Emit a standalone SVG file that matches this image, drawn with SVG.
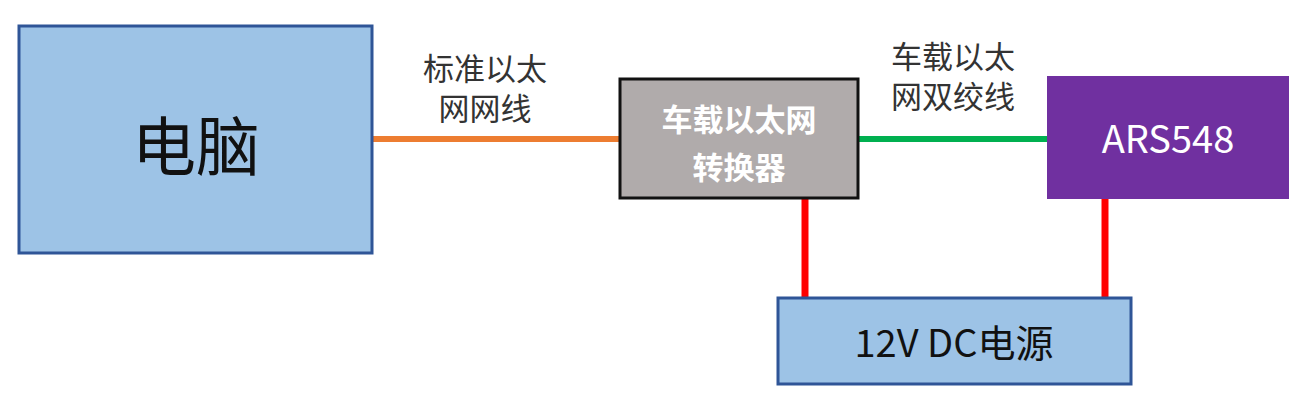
<svg xmlns="http://www.w3.org/2000/svg" width="1305" height="403" viewBox="0 0 1305 403">
<style>
text{font-family:"Noto Sans CJK SC","Noto Sans",sans-serif;text-anchor:middle}
.blue{fill:#9dc3e6;stroke:#2f5597;stroke-width:3}
.lbl{font-size:31px;fill:#333}
</style>
<rect width="1305" height="403" fill="#fff"/>
<g id="connectors">
<line x1="372" y1="139" x2="619" y2="139" stroke="#ed7d31" stroke-width="6"/>
<line x1="858" y1="139" x2="1047" y2="139" stroke="#00b050" stroke-width="6"/>
<line x1="805" y1="198" x2="805" y2="298" stroke="#ff0000" stroke-width="7"/>
<line x1="1105" y1="199" x2="1105" y2="298" stroke="#ff0000" stroke-width="7"/>
<text class="lbl" x="485" y="80">标准以太</text>
<text class="lbl" x="485" y="120">网网线</text>
<text class="lbl" x="953" y="68">车载以太</text>
<text class="lbl" x="953" y="108">网双绞线</text>
</g>
<g id="pc"><rect class="blue" x="19" y="26" width="353" height="227"/><text x="196" y="170" font-size="64" fill="#111">电脑</text></g>
<g id="converter"><rect x="620" y="79" width="238" height="119" fill="#b0abab" stroke="#111" stroke-width="3"/><text x="739" y="131" font-size="31" font-weight="bold" fill="#fff">车载以太网</text><text x="739" y="179" font-size="31" font-weight="bold" fill="#fff">转换器</text></g>
<g id="ars548"><rect x="1047" y="76" width="242" height="123" fill="#7030a0"/><text x="1168" y="153" font-size="38" fill="#fff">ARS548</text></g>
<g id="power"><rect class="blue" x="778" y="298" width="353" height="86"/><text x="954" y="357" font-size="38" fill="#111">12V DC电源</text></g>
</svg>
